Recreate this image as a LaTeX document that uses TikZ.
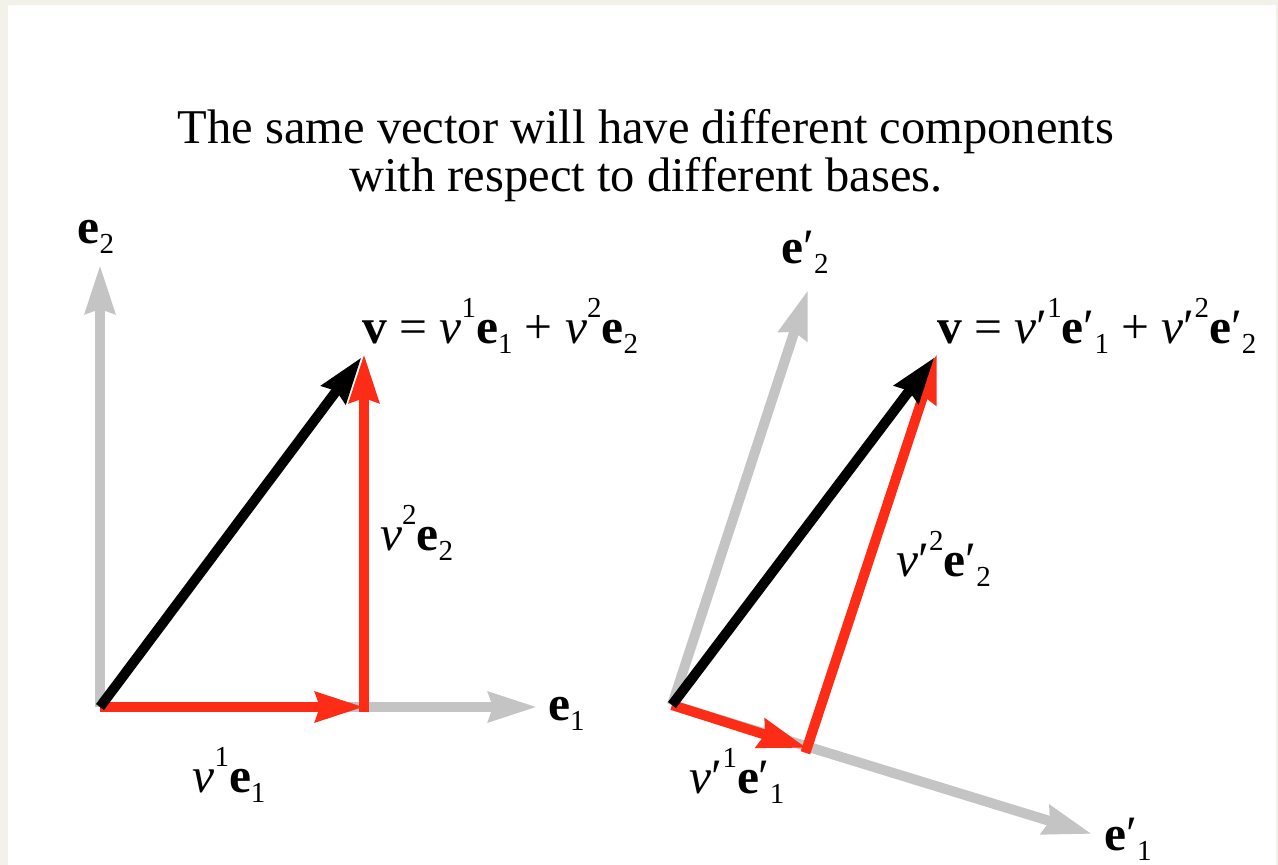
\documentclass[tikz,border=0pt]{standalone}
\usepackage{fontspec}
\setmainfont{Liberation Serif}
\usetikzlibrary{arrows.meta}
\definecolor{beige}{RGB}{242,241,234}
\definecolor{axisgray}{RGB}{196,196,196}
\definecolor{compred}{RGB}{252,44,22}
\newcommand\bv[1]{\textbf{#1}}
\newcommand\gnu{\textit{ν}}
\newcommand\sps[1]{\raisebox{0.52em}{\fontsize{29}{29}\selectfont #1}}
\newcommand\sbs[1]{\raisebox{-0.22em}{\fontsize{29}{29}\selectfont #1}}
\newcommand\pr{′}
\begin{document}
\begin{tikzpicture}[x=1pt,y=-1pt,
  lbl/.style={inner sep=0pt,font=\fontsize{49.5}{50}\selectfont},
  basisvec/.style={draw=axisgray,line width=10pt,-{Stealth[length=48pt,width=29pt,inset=4pt]}},
  compvec/.style={draw=compred,line width=10pt,-{Stealth[length=48pt,width=29pt,inset=4pt]}},
  mainvec/.style={draw=black,line width=10pt,-{Stealth[length=46pt,width=29pt,inset=4pt]}}]
\fill[beige] (0,0) rectangle (1278,865);
\fill[white] (8,5) rectangle (1276,865);
\useasboundingbox (0,0) rectangle (1278,865);

% title
\node[inner sep=0pt,font=\fontsize{48.5}{48}\selectfont,align=center,anchor=base] (title) at (646,191)
  {The same vector will have different components\\with respect to different bases.};

% left diagram
\coordinate (O1) at (100,707);
\coordinate (E2) at (100,265);
\coordinate (E1) at (537,707);
\coordinate (P1) at (364,707);
\coordinate (V1) at (364,354);
\draw[basisvec] (O1) -- (E2);
\draw[basisvec] (O1) -- (E1);
\draw[compvec] (O1) -- (P1);
\draw[compvec,shorten <=-5pt] (P1) -- (V1);
\draw[mainvec,shorten >=4pt] (O1) -- (V1);

\node[lbl,anchor=base] (le2) at (96,243) {\bv{e}\sbs{2}};
\node[lbl,anchor=base west] (le1) at (548,720) {\bv{e}\sbs{1}};
\node[lbl,anchor=base] (lc1) at (229,792) {\gnu\sps{1}\bv{e}\sbs{1}};
\node[lbl,anchor=base west] (lc2) at (380,550) {\gnu\sps{2}\bv{e}\sbs{2}};
\node[lbl,anchor=base west] (lv) at (362,343) {\bv{v} = \gnu\sps{1}\bv{e}\sbs{1} + \gnu\sps{2}\bv{e}\sbs{2}};

% right diagram
\coordinate (O2) at (672,705);
\coordinate (F2) at (808,290);
\coordinate (F1) at (1092,834);
\coordinate (P2) at (807,748);
\coordinate (V2) at (937,354);
\draw[basisvec] (O2) -- (F2);
\draw[basisvec] (O2) -- (F1);
\draw[compvec] (O2) -- (P2);
\draw[compvec,shorten <=-5pt] (P2) -- (V2);
\draw[mainvec,shorten >=4pt] (O2) -- (V2);

\node[lbl,anchor=base west] (re2) at (781,263) {\bv{e}\pr\sbs{2}};
\node[lbl,anchor=base west] (re1) at (1104,850) {\bv{e}\pr\sbs{1}};
\node[lbl,anchor=base] (rc1) at (737,793) {\gnu\pr\sps{1}\bv{e}\pr\sbs{1}};
\node[lbl,anchor=base west] (rc2) at (896,576) {\gnu\pr\sps{2}\bv{e}\pr\sbs{2}};
\node[lbl,anchor=base west] (rv) at (937,343) {\bv{v} = \gnu\pr\sps{1}\bv{e}\pr\sbs{1} + \gnu\pr\sps{2}\bv{e}\pr\sbs{2}};
\end{tikzpicture}
\end{document}
